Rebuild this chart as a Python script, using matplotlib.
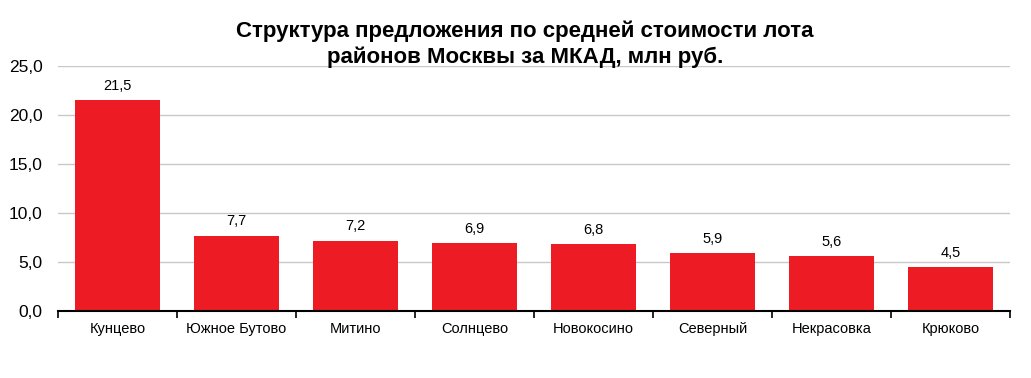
import matplotlib
matplotlib.use('Agg')
import matplotlib.pyplot as plt

plt.rcParams['font.family'] = ['Liberation Sans', 'DejaVu Sans']

districts = ['Кунцево', 'Южное Бутово', 'Митино', 'Солнцево', 'Новокосино',
             'Северный', 'Некрасовка', 'Крюково']
prices = [21.5, 7.7, 7.2, 6.9, 6.8, 5.9, 5.6, 4.5]
yticks = [0, 5, 10, 15, 20, 25]

fig = plt.figure(figsize=(10.31, 3.78), dpi=100)
ax = fig.add_axes([0.0563, 0.177, 0.9233, 0.648])

x = list(range(len(districts)))
ax.bar(x, prices, width=0.71, color='#ED1C24', zorder=3)

for xi, v in zip(x, prices):
  ax.text(xi, v + 0.75, ('%.1f' % v).replace('.', ','), ha='center', va='bottom',
          fontsize=10.5)

ax.set_xlim(-0.5, len(districts) - 0.5)
ax.set_ylim(0, 25)
ax.set_yticks(yticks, labels=[('%.1f' % t).replace('.', ',') for t in yticks])
ax.tick_params(axis='y', length=0, labelsize=12.5, pad=11)
ax.yaxis.grid(True, color='#C8C8C8', linewidth=1, zorder=0)

# category ticks at the boundaries between bars
ax.set_xticks([i - 0.5 for i in range(len(districts) + 1)], labels=[''] * (len(districts) + 1))
ax.set_xticks(x, labels=districts, minor=True)
ax.tick_params(axis='x', which='major', length=5, width=1.2, direction='out', color='black')
ax.tick_params(axis='x', which='minor', length=0, labelsize=10.5, pad=8)

for s in ['left', 'right', 'top']:
  ax.spines[s].set_visible(False)
ax.spines['bottom'].set_linewidth(1.5)
ax.spines['bottom'].set_zorder(4)

fig.text(0.509, 0.883, 'Структура предложения по средней стоимости лота\nрайонов Москвы за МКАД, млн руб.',
         ha='center', va='center', fontsize=16, fontweight='bold', linespacing=1.3)

fig.savefig('out.png', dpi=100)
